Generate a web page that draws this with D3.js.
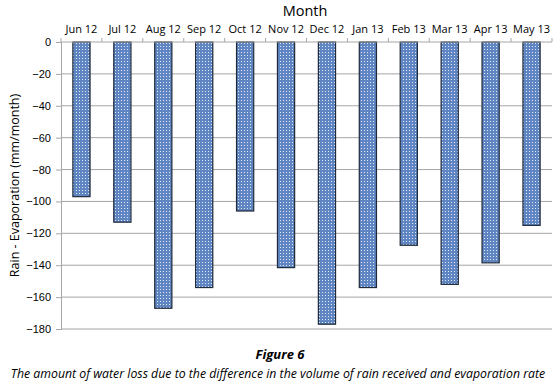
<!DOCTYPE html>
<html>
<head>
<meta charset="utf-8">
<script src="https://cdn.jsdelivr.net/npm/d3@7"></script>
<style>
  body { margin: 0; background: #fff; }
  svg { display: block; font-family: "Open Sans", "Liberation Sans", sans-serif; }
</style>
</head>
<body>
<svg id="svg" width="555" height="384"></svg>
<script>
const months = ["Jun 12", "Jul 12", "Aug 12", "Sep 12", "Oct 12", "Nov 12", "Dec 12", "Jan 13", "Feb 13", "Mar 13", "Apr 13", "May 13"];
const values = [-97, -113, -167, -154, -106, -141.5, -177, -154, -127.5, -152, -138.5, -115];
const yTicks = [0, -20, -40, -60, -80, -100, -120, -140, -160, -180];

const W = 555, H = 384,
    mLeft = 61, mRight = 552, mTop = 42, mBottom = 329,
    svg = d3.select("#svg"),
    x = d3.scaleBand().domain(months).range([mLeft, mRight]).paddingInner(0.58).paddingOuter(0.29),
    xb = d3.scaleBand().domain(months).range([mLeft, mRight]),
    y = d3.scaleLinear().domain([0, -180]).range([mTop, mBottom]);

// dotted fill like the original
const pat = svg.append("defs").append("pattern")
    .attr("id", "dots").attr("patternUnits", "userSpaceOnUse")
    .attr("width", 3).attr("height", 3);
pat.append("rect").attr("width", 3).attr("height", 3).attr("fill", "#5f86c2");
pat.append("rect").attr("x", 1).attr("y", 1).attr("width", 1).attr("height", 1).attr("fill", "#e2eaf6");

// gridlines
svg.append("g").selectAll("line").data(yTicks.filter(d => d !== 0)).join("line")
    .attr("x1", mLeft).attr("x2", mRight)
    .attr("y1", d => y(d)).attr("y2", d => y(d))
    .style("stroke", "#a6a6a6").style("stroke-width", 1);

// y axis
const yax = svg.append("g").attr("transform", `translate(${mLeft},0)`)
    .call(d3.axisLeft(y).tickValues(yTicks).tickSize(5).tickPadding(5));
yax.select(".domain").style("stroke", "#a6a6a6");
yax.selectAll(".tick line").style("stroke", "#a6a6a6");
yax.selectAll(".tick text").style("font-size", "11px").style("fill", "#000");

// bars
svg.append("g").selectAll("rect").data(values).join("rect")
    .attr("x", (d, i) => x(months[i]))
    .attr("width", x.bandwidth())
    .attr("y", y(0))
    .attr("height", d => y(d) - y(0))
    .style("fill", "url(#dots)")
    .style("stroke", "#1f2a3a").style("stroke-width", 1.2);

// top category axis, ticks on band edges
const xg = svg.append("g").attr("transform", `translate(0,${mTop})`);
xg.append("line").attr("x1", mLeft).attr("x2", mRight).style("stroke", "#a6a6a6");
xg.selectAll("line.t").data(months.concat(["end"])).join("line").attr("class", "t")
    .attr("x1", (d, i) => mLeft + i * xb.bandwidth()).attr("x2", (d, i) => mLeft + i * xb.bandwidth())
    .attr("y1", -4).attr("y2", 0).style("stroke", "#a6a6a6");
xg.selectAll("text").data(months).join("text")
    .attr("x", d => xb(d) + xb.bandwidth() / 2).attr("y", -9)
    .attr("text-anchor", "middle").style("font-size", "11px").text(d => d);

// titles
svg.append("text").attr("x", 305).attr("y", 16).attr("text-anchor", "middle")
    .style("font-size", "14.5px").text("Month");
svg.append("text").attr("transform", `translate(19,${(mTop + mBottom) / 2}) rotate(-90)`)
    .attr("text-anchor", "middle").style("font-size", "12.5px").text("Rain - Evaporation (mm/month)");

svg.append("text").attr("x", 280).attr("y", 359).attr("text-anchor", "middle")
    .style("font-size", "13px").style("font-style", "italic").style("font-weight", "bold").text("Figure 6");
svg.append("text").attr("x", 278).attr("y", 378).attr("text-anchor", "middle")
    .style("font-size", "12.3px").style("font-style", "italic")
    .text("The amount of water loss due to the difference in the volume of rain received and evaporation rate");
</script>
</body>
</html>
